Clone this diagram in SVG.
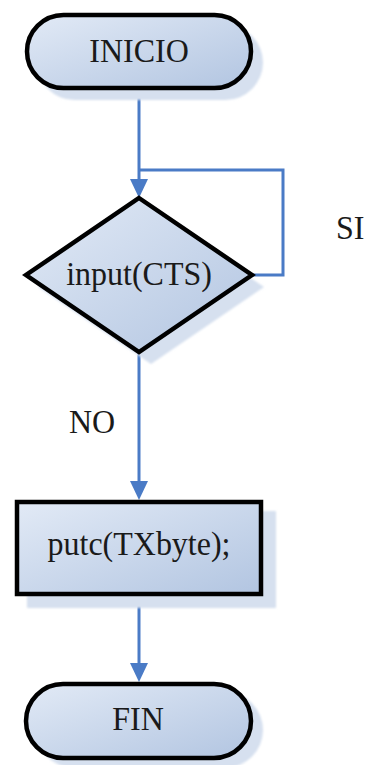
<svg xmlns="http://www.w3.org/2000/svg" width="365" height="765" viewBox="0 0 365 765">
  <style>
    .shape { fill: url(#fillGrad); stroke: #000; stroke-width: 4.5; }
    .shadow { fill: #d6e0ef; filter: url(#soft); }
    .label { font-family: "Liberation Serif", "Times New Roman", serif; font-size: 32px; fill: #1a1a1a; }
    .mid { text-anchor: middle; }
    .wire { fill: none; stroke: #4a7bc6; stroke-width: 3; }
    .head { fill: #4a7bc6; }
  </style>
  <defs>
    <linearGradient id="fillGrad" x1="0" y1="0" x2="1" y2="1">
      <stop offset="0" stop-color="#e2eaf6"/>
      <stop offset="1" stop-color="#b2c5e1"/>
    </linearGradient>
    <filter id="soft" x="-10%" y="-10%" width="120%" height="120%">
      <feGaussianBlur stdDeviation="1.2"/>
    </filter>
  </defs>

  <!-- connectors -->
  <g id="connectors">
    <path class="wire" d="M139,90 V180"/>
    <path class="head" d="M130,179 L148,179 L139,198 Z"/>
    <path class="wire" d="M252,275 H283 V170 H139"/>
    <path class="wire" d="M139,352 V482"/>
    <path class="head" d="M130,481 L148,481 L139,500 Z"/>
    <path class="wire" d="M139,595 V664"/>
    <path class="head" d="M130,663 L148,663 L139,682 Z"/>
  </g>

  <!-- start terminal -->
  <g id="inicio">
    <rect class="shadow" x="37" y="25" width="226" height="75" rx="37.5"/>
    <rect class="shape" x="27" y="15" width="224" height="73" rx="36.5"/>
    <text class="label mid" transform="translate(139,62) scale(1,1.08)">INICIO</text>
  </g>

  <!-- decision -->
  <g id="decision">
    <polygon class="shadow" points="151,210 264,287 151,364 38,287"/>
    <polygon class="shape" points="139,198 252,275 139,352 26,275"/>
    <text class="label mid" transform="translate(139,285) scale(1,1.08)">input(CTS)</text>
  </g>

  <!-- branch labels -->
  <g id="labels">
    <text class="label" transform="translate(336,239) scale(1,1.08)">SI</text>
    <text class="label" transform="translate(69,433) scale(1,1.08)">NO</text>
  </g>

  <!-- process -->
  <g id="proceso">
    <rect class="shadow" x="27" y="511" width="249" height="97"/>
    <rect class="shape" x="17" y="502" width="244" height="92" stroke-width="5"/>
    <text class="label mid" transform="translate(139,555) scale(1,1.08)">putc(TXbyte);</text>
  </g>

  <!-- end terminal -->
  <g id="fin">
    <rect class="shadow" x="36" y="692" width="227" height="76" rx="38"/>
    <rect class="shape" x="26" y="684" width="225" height="74" rx="37"/>
    <text class="label mid" transform="translate(138,730) scale(1,1.08)">FIN</text>
  </g>
</svg>
